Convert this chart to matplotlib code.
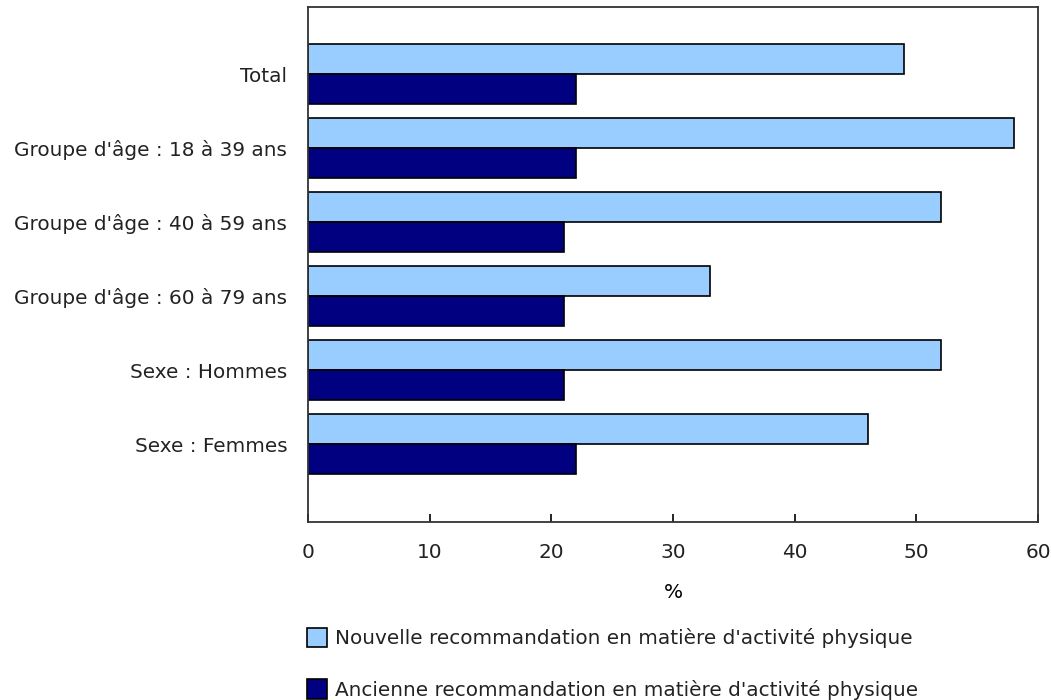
import numpy as np
import matplotlib.pyplot as plt
from matplotlib.patches import Patch

# Pourcentage d'adultes respectant la recommandation
groupes = ["Total", "Groupe d'âge : 18 à 39 ans", "Groupe d'âge : 40 à 59 ans",
           "Groupe d'âge : 60 à 79 ans", "Sexe : Hommes", "Sexe : Femmes"]
nouvelle = [49, 58, 52, 33, 52, 46]
ancienne = [22, 22, 21, 21, 21, 22]
legende = ["Nouvelle recommandation en matière d'activité physique",
           "Ancienne recommandation en matière d'activité physique"]

plt.rcParams['font.family'] = ['DejaVu Sans']
plt.rcParams['font.size'] = 14.4
plt.rcParams['text.color'] = '#222222'

fig = plt.figure(figsize=(10.51, 7.0), dpi=100)
ax = fig.add_axes([308/1051, 1 - 522/700, 730/1051, 515/700])

y = np.arange(len(groupes))
h = 0.405
ax.barh(y - h/2, nouvelle, height=h, color='#99CCFF', edgecolor='black', linewidth=1.2)
ax.barh(y + h/2, ancienne, height=h, color='#000080', edgecolor='black', linewidth=1.2)

ax.set_xlim(0, 60)
ax.set_ylim(6.05, -0.905)
ax.set_yticks(y)
ax.set_yticklabels(groupes)
ax.set_xticks(range(0, 61, 10))
ax.tick_params(axis='y', length=0, pad=15, labelcolor='#222222')
ax.tick_params(axis='x', direction='in', length=6, width=1.2, pad=15, labelcolor='#222222')
for s in ax.spines.values():
    s.set_linewidth(1.3)
    s.set_color('#333333')
ax.set_xlabel('%', labelpad=15)

handles = [Patch(facecolor='#99CCFF', edgecolor='black', linewidth=1.2),
           Patch(facecolor='#000080', edgecolor='black', linewidth=1.2)]
fig.legend(handles, legende, loc='upper left', bbox_to_anchor=(307/1051, 1 - 628/700),
           frameon=False, labelspacing=1.55, handlelength=1.0, handleheight=1.1,
           handletextpad=0.4, borderaxespad=0, borderpad=0)

fig.savefig('out.png', dpi=100)
